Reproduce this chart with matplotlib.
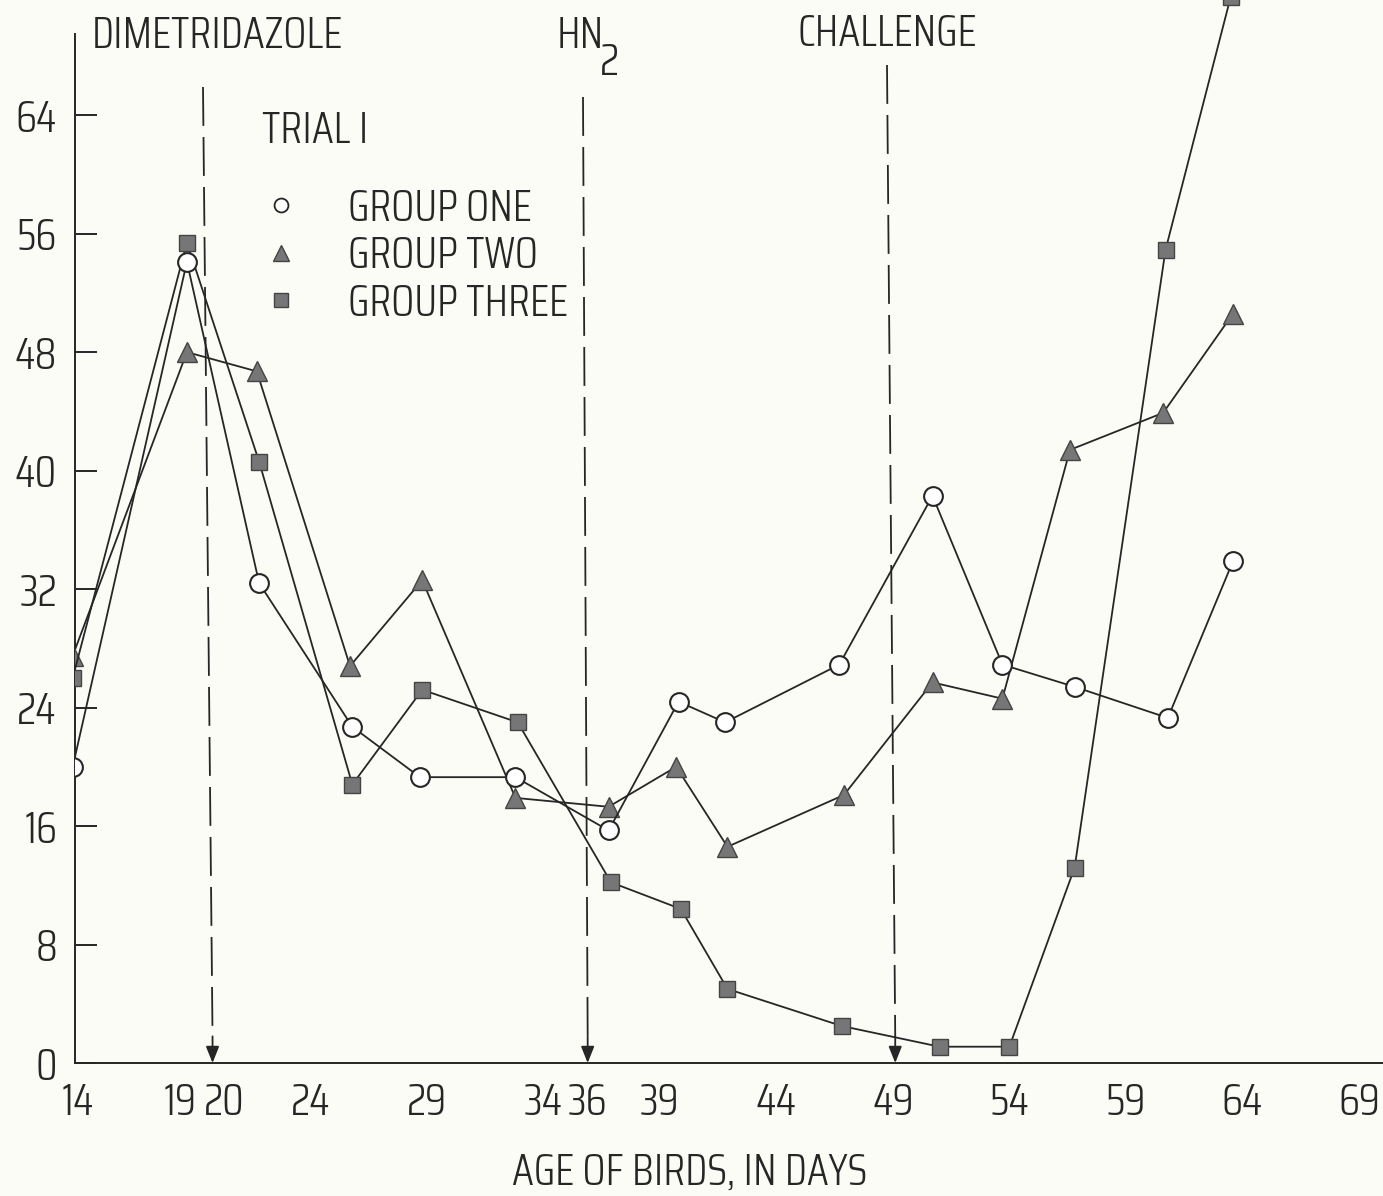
import math
import matplotlib
matplotlib.use("Agg")
import matplotlib.pyplot as plt
from matplotlib import font_manager
from matplotlib.lines import Line2D
from matplotlib.textpath import TextPath
from matplotlib.transforms import ScaledTranslation

# values: age of birds (days) and count per group
days_one = [13.8, 18.7, 21.8, 25.8, 28.7, 32.8, 36.8, 39.8, 41.8, 46.7, 50.7, 53.7, 56.8, 60.8, 63.6]
vals_one = [20.0, 54.1, 32.4, 22.7, 19.3, 19.3, 15.7, 24.4, 23.0, 26.9, 38.3, 26.9, 25.4, 23.3, 33.9]

days_two = [13.8, 18.7, 21.7, 25.7, 28.8, 32.8, 36.8, 39.7, 41.9, 46.9, 50.7, 53.7, 56.6, 60.6, 63.6]
vals_two = [27.5, 48.0, 46.7, 26.8, 32.6, 17.9, 17.3, 20.0, 14.6, 18.1, 25.7, 24.6, 41.4, 43.9, 50.6]

days_three = [13.8, 18.7, 21.8, 25.8, 28.8, 32.9, 36.9, 39.9, 41.9, 46.8, 51.0, 54.0, 56.8, 60.7, 63.5]
vals_three = [26.0, 55.4, 40.6, 18.8, 25.2, 23.0, 12.2, 10.4, 5.0, 2.5, 1.1, 1.1, 13.2, 54.9, 72.0]

group_names = ["GROUP ONE", "GROUP TWO", "GROUP THREE"]

# treatments and the day their arrow reaches the axis
event_names = ["DIMETRIDAZOLE", "HN", "CHALLENGE"]
event_days = [19.8, 35.9, 49.1]

x_tick_days = [14, 19, 20, 24, 29, 34, 36, 39, 44, 49, 54, 59, 64, 69]
x_mark_days = [19, 24, 29, 34, 39, 44, 54, 59, 64, 69]
y_ticks = [0, 8, 16, 24, 32, 40, 48, 56, 64]

# ---- layout (pixels of the 1383x1196 page) ----
W, H = 1383, 1196
AX_LEFT, AX_BOTTOM = 75, 1063
X14_PX, PX_PER_DAY = 77.4, 23.3
PX_PER_UNIT = 14.81
LABEL_W, CAP_H = 246, 32     # width of DIMETRIDAZOLE and cap height in the scan


def day_at(px):
    return 14 + (px - X14_PX) / PX_PER_DAY


def val_at(py):
    return (AX_BOTTOM - py) / PX_PER_UNIT


SANS = {"DejaVu Sans", "Liberation Sans", "Noto Sans", "Roboto", "Open Sans",
        "Lato", "Inter", "Noto Sans Display"}


def text_box(s, fp):
    return TextPath((0, 0), s, prop=fp).get_extents()


def closest_font():
    # the original was typed in a tall, narrow, light face: take the installed
    # sans whose label width / cap height is closest to the scan's
    target = LABEL_W / CAP_H
    best, best_score = None, None
    for f in font_manager.fontManager.ttflist:
        narrow = "Condensed" in f.name or "Narrow" in f.name or "Cond" in f.fname
        if not (f.name in SANS or narrow):
            continue
        if "Mono" in f.name or "Mono" in f.fname:
            continue
        if f.style != "normal" or not (300 <= int(f.weight) <= 500):
            continue
        if not f.fname.lower().endswith((".ttf", ".otf")):
            continue
        try:
            fp = font_manager.FontProperties(fname=f.fname, size=100)
            w = text_box("DIMETRIDAZOLE", fp).width
            h = text_box("H", fp).height
        except Exception:
            continue
        if h <= 0:
            continue
        score = abs(math.log(w / h / target)) + 0.0004 * abs(int(f.weight) - 300)
        if best_score is None or score < best_score:
            best, best_score = f.fname, score
    return best


font_file = closest_font()


def fprop(size):
    if font_file:
        fp = font_manager.FontProperties(fname=font_file)
    else:
        fp = font_manager.FontProperties(family="DejaVu Sans")
    fp.set_size(size)
    return fp


# size: fit the width of DIMETRIDAZOLE, caps no taller than the scan's
probe = fprop(100)
w100 = text_box("DIMETRIDAZOLE", probe).width * 100 / 72
h100 = text_box("H", probe).height * 100 / 72
size = min(100 * (CAP_H + 2) / h100, 100 * LABEL_W / w100)
fp = fprop(size)
cap_px = h100 * size / 100
desc_px = -text_box("lp", probe).y0 * 100 / 72 * size / 100

ink = "#262626"
paper = "#fcfcf6"
gray = "#767676"

plt.rcParams["lines.scale_dashes"] = False

fig = plt.figure(figsize=(W / 100, H / 100), dpi=100, facecolor=paper)
ax = fig.add_axes([AX_LEFT / W, 1 - AX_BOTTOM / H, 1 - AX_LEFT / W, AX_BOTTOM / H])
ax.set_facecolor(paper)

ax.plot(days_one, vals_one, color=ink, lw=1.3, marker="o", ms=13.5,
        mfc="white", mec=ink, mew=1.5, zorder=4)
ax.plot(days_two, vals_two, color=ink, lw=1.3, marker="^", ms=15,
        mfc=gray, mec="#444444", mew=1.0, zorder=3)
ax.plot(days_three, vals_three, color=ink, lw=1.3, marker="s", ms=12,
        mfc=gray, mec="#444444", mew=1.0, zorder=3)

# dashed treatment lines with an arrow at the axis
tops = [(203, 87), (583, 97), (887, 65)]
for (tx, ty), d in zip(tops, event_days):
    ax.plot([day_at(tx), d], [val_at(ty), 1.8], color=ink, lw=1.3,
            ls=(0, (28, 8)), zorder=2)
    ax.annotate("", xy=(d, 0), xytext=(d, 1.8),
                arrowprops=dict(arrowstyle="-|>,head_length=0.5,head_width=0.2",
                                mutation_scale=20, color=ink, lw=1.3,
                                shrinkA=0, shrinkB=0))

# treatment labels (left edge, baseline)
ax.text(day_at(92), val_at(48), event_names[0], fontproperties=fp, color=ink)
hn = ax.text(day_at(557), val_at(48), event_names[1], fontproperties=fp, color=ink)
ax.annotate("2", xy=(1, 0), xycoords=hn, xytext=(-3, -(27 - desc_px) * 0.72),
            textcoords="offset points", fontproperties=fp, color=ink,
            va="baseline")
ax.text(day_at(797), val_at(46), event_names[2], fontproperties=fp, color=ink)
ax.text(day_at(262), val_at(143), "TRIAL I", fontproperties=fp, color=ink)

# legend keys
handles = [Line2D([], [], ls="none", marker="o", ms=10, mfc="white", mec=ink, mew=1.3),
           Line2D([], [], ls="none", marker="^", ms=12, mfc=gray, mec="#444444", mew=1.0),
           Line2D([], [], ls="none", marker="s", ms=10, mfc=gray, mec="#444444", mew=1.0)]
fs_px = size * 100 / 72
hl = 1.0
x0 = 281 - hl * fs_px / 2
row_gap = 47.5
first_center = 206


def make_legend(top_px, htp, lsp):
    return ax.legend(handles, group_names, prop=fprop(size), labelcolor=ink,
                     loc="upper left", bbox_to_anchor=(x0 / W, 1 - top_px / H),
                     bbox_transform=fig.transFigure, frameon=False, borderpad=0,
                     borderaxespad=0, handlelength=hl, handletextpad=htp,
                     labelspacing=lsp)


# place once, measure, then correct the rows onto the scan's positions
top_px, htp, lsp = 188, (348 - (x0 + hl * fs_px)) / fs_px, 0.1
leg = make_legend(top_px, htp, lsp)
fig.canvas.draw()
rend = fig.canvas.get_renderer()
boxes = [t.get_window_extent(rend) for t in leg.get_texts()]
base = [H - (b.y0 + desc_px) for b in boxes]          # baselines, px from top
gap = (base[-1] - base[0]) / (len(base) - 1)
top_px += (first_center + cap_px / 2) - base[0]
lsp += (row_gap - gap) / fs_px
htp += (348 - boxes[0].x0) / fs_px
leg = make_legend(top_px, htp, lsp)

# axes
ax.set_xlim(day_at(AX_LEFT), day_at(W))
ax.set_ylim(0, val_at(0))
for side in ["top", "right"]:
    ax.spines[side].set_visible(False)
ax.spines["left"].set_bounds(0, 69.5)
for side in ["left", "bottom"]:
    ax.spines[side].set_linewidth(1.4)
    ax.spines[side].set_color(ink)

ax.set_xticks(x_tick_days, labels=[str(d) for d in x_tick_days])
ax.set_xticks(x_mark_days, minor=True)
ax.tick_params(axis="x", which="major", length=0, pad=14, colors=ink)
ax.tick_params(axis="x", which="minor", direction="in", length=14.5, width=1.4, color=ink)
ax.set_yticks(y_ticks, labels=[str(v) for v in y_ticks])
ax.tick_params(axis="y", direction="in", length=16, width=1.4, pad=13, colors=ink)

nudge = {"19": -14, "20": 7, "36": -3}
for lab in ax.get_xticklabels():
    lab.set_fontproperties(fprop(size))
    dx = nudge.get(lab.get_text(), 0)
    if dx:
        lab.set_transform(lab.get_transform() + ScaledTranslation(dx / 100, 0, fig.dpi_scale_trans))
for lab in ax.get_yticklabels():
    lab.set_fontproperties(fprop(size))

ax.set_xlabel("AGE OF BIRDS, IN DAYS", fontproperties=fprop(size), color=ink)
ax.xaxis.set_label_coords((690 - AX_LEFT) / (W - AX_LEFT), -(1152 - AX_BOTTOM) / AX_BOTTOM)

fig.savefig("out.png", dpi=100, facecolor=paper)
